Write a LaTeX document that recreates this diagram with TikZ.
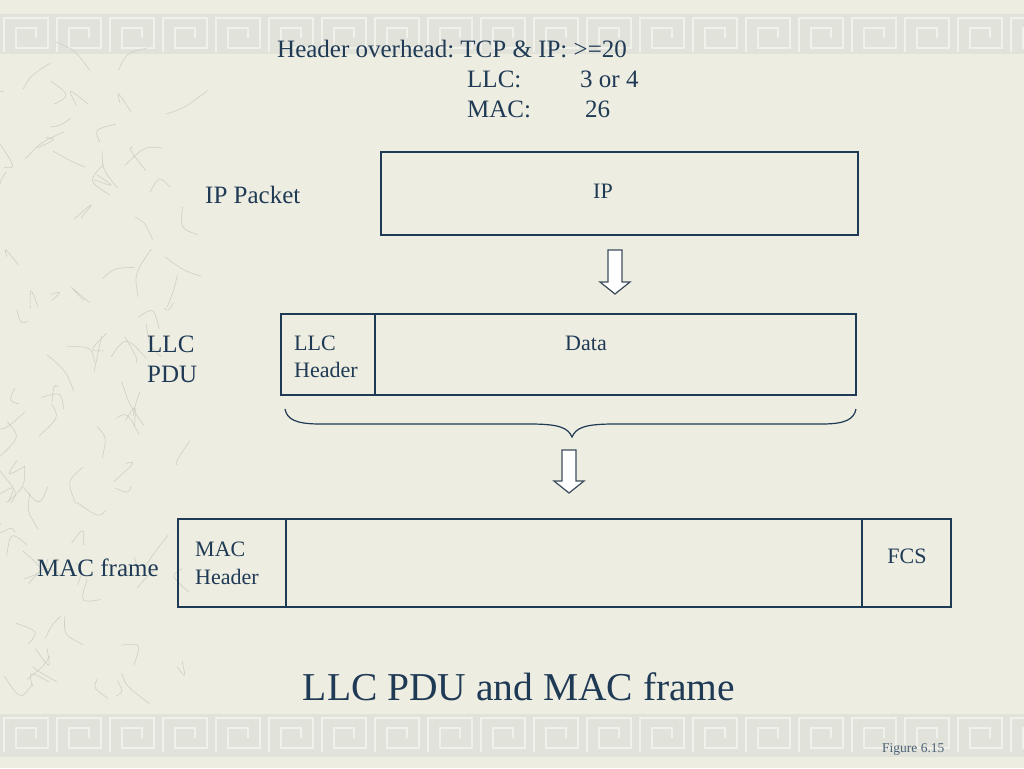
\documentclass[tikz,border=0pt]{standalone}
\usepackage{fontspec}
\setmainfont{Liberation Serif}
\frenchspacing
\begin{document}
\begin{tikzpicture}[x=1pt,y=-1pt,
  ink/.style={draw=navy,line width=1.3pt},
  boxtext/.style={font=\fontsize{22}{26}\selectfont,text=navy,inner sep=0pt},
  lbl/.style={font=\fontsize{25}{29}\selectfont,text=navy,inner sep=0pt,align=left},
  hollow/.style={draw=arrowc,line width=1.2pt,fill=white},
  keyline/.style={draw=keyc,line width=2.4pt},
  crack/.style={draw=crackc,line width=0.6pt}
]
\definecolor{navy}{HTML}{1F3A55}
\definecolor{bg}{HTML}{EEEDE1}
\definecolor{bandc}{HTML}{E1E2DA}
\definecolor{keyc}{HTML}{F1F1EC}
\definecolor{arrowc}{HTML}{3E4E5E}
\definecolor{crackc}{HTML}{CFCFC6}
\useasboundingbox (0,0) rectangle (1024,768);
\fill[bg] (0,0) rectangle (1024,768);
% decorative bands
\fill[bandc] (0,14) rectangle (1024,54);
\fill[bandc] (0,714) rectangle (1024,757);
\foreach \y in {14,714}{
  \foreach \i in {0,...,19}{
    \pgfmathsetmacro{\xo}{\i*53+4}
    \draw[keyline] (\xo,\y+38) -- (\xo,\y+4) -- (\xo+44,\y+4) -- (\xo+44,\y+34) -- (\xo+12,\y+34) -- (\xo+12,\y+14) -- (\xo+32,\y+14) -- (\xo+32,\y+24);
  }
}
% crackle texture on the left
\pgfmathsetseed{7}
\foreach \k in {1,...,90}{
  \pgfmathsetmacro{\px}{rnd*185}
  \pgfmathsetmacro{\py}{60+rnd*645}
  \pgfmathsetmacro{\qx}{\px+(rnd-0.5)*50}
  \pgfmathsetmacro{\qy}{\py+(rnd-0.5)*50}
  \pgfmathsetmacro{\rx}{\qx+(rnd-0.5)*50}
  \pgfmathsetmacro{\ry}{\qy+(rnd-0.5)*50}
  \draw[crack] (\px,\py) .. controls (\qx,\qy) .. (\rx,\ry);
}
% header overhead text
\node[lbl,anchor=base west] (hdr) at (277,58) {Header overhead: TCP \& IP: >=20};
\node[lbl,anchor=base west] (llcl) at (467,87) {LLC:};
\node[lbl,anchor=base west] (llcv) at (580,87) {3 or 4};
\node[lbl,anchor=base west] (macl) at (467,117) {MAC:};
\node[lbl,anchor=base west] (macv) at (585,117) {26};
% IP packet
\draw[ink] (381,152) rectangle (858,235);
\node[boxtext,anchor=base] (ip) at (603,198) {IP};
\node[lbl,anchor=base west] (ippk) at (205,203) {IP Packet};
% arrow 1
\draw[hollow] (608,250) -- (622,250) -- (622,282) -- (630,282) -- (615,294) -- (600,282) -- (608,282) -- cycle;
% LLC PDU
\draw[ink] (281,314) rectangle (856,395);
\draw[ink] (375,314) -- (375,395);
\node[boxtext,anchor=base west] (llch) at (294,350) {LLC};
\node[boxtext,anchor=base west] (llch2) at (294,377) {Header};
\node[boxtext,anchor=base] (data) at (586,350) {Data};
\node[lbl,anchor=base west] (pdu1) at (147,352) {LLC};
\node[lbl,anchor=base west] (pdu2) at (147,382) {PDU};
% brace
\draw[draw=navy,line width=1.2pt] (285,409) .. controls (287,419) and (295,424) .. (320,424) -- (530,424) .. controls (560,424) and (568,428) .. (572,437) .. controls (576,428) and (584,424) .. (614,424) -- (822,424) .. controls (846,424) and (854,419) .. (856,409);
% arrow 2
\draw[hollow] (562,450) -- (576,450) -- (576,481) -- (584,481) -- (569,493) -- (554,481) -- (562,481) -- cycle;
% MAC frame
\draw[ink] (178,519) rectangle (951,607);
\draw[ink] (286,519) -- (286,607);
\draw[ink] (862,519) -- (862,607);
\node[boxtext,anchor=base west] (mach) at (195,556) {MAC};
\node[boxtext,anchor=base west] (mach2) at (195,584) {Header};
\node[boxtext,anchor=base] (fcs) at (907,563) {FCS};
\node[lbl,anchor=base west] (macf) at (37,576) {MAC frame};
% title
\node[font=\fontsize{39.5}{44}\selectfont,text=navy,inner sep=0pt,anchor=base] (title) at (519,700) {LLC PDU and MAC frame};
\node[font=\fontsize{13.5}{16}\selectfont,text=navy!80,inner sep=0pt,anchor=base west] (fig) at (882,752) {Figure 6.15};
\end{tikzpicture}
\end{document}
